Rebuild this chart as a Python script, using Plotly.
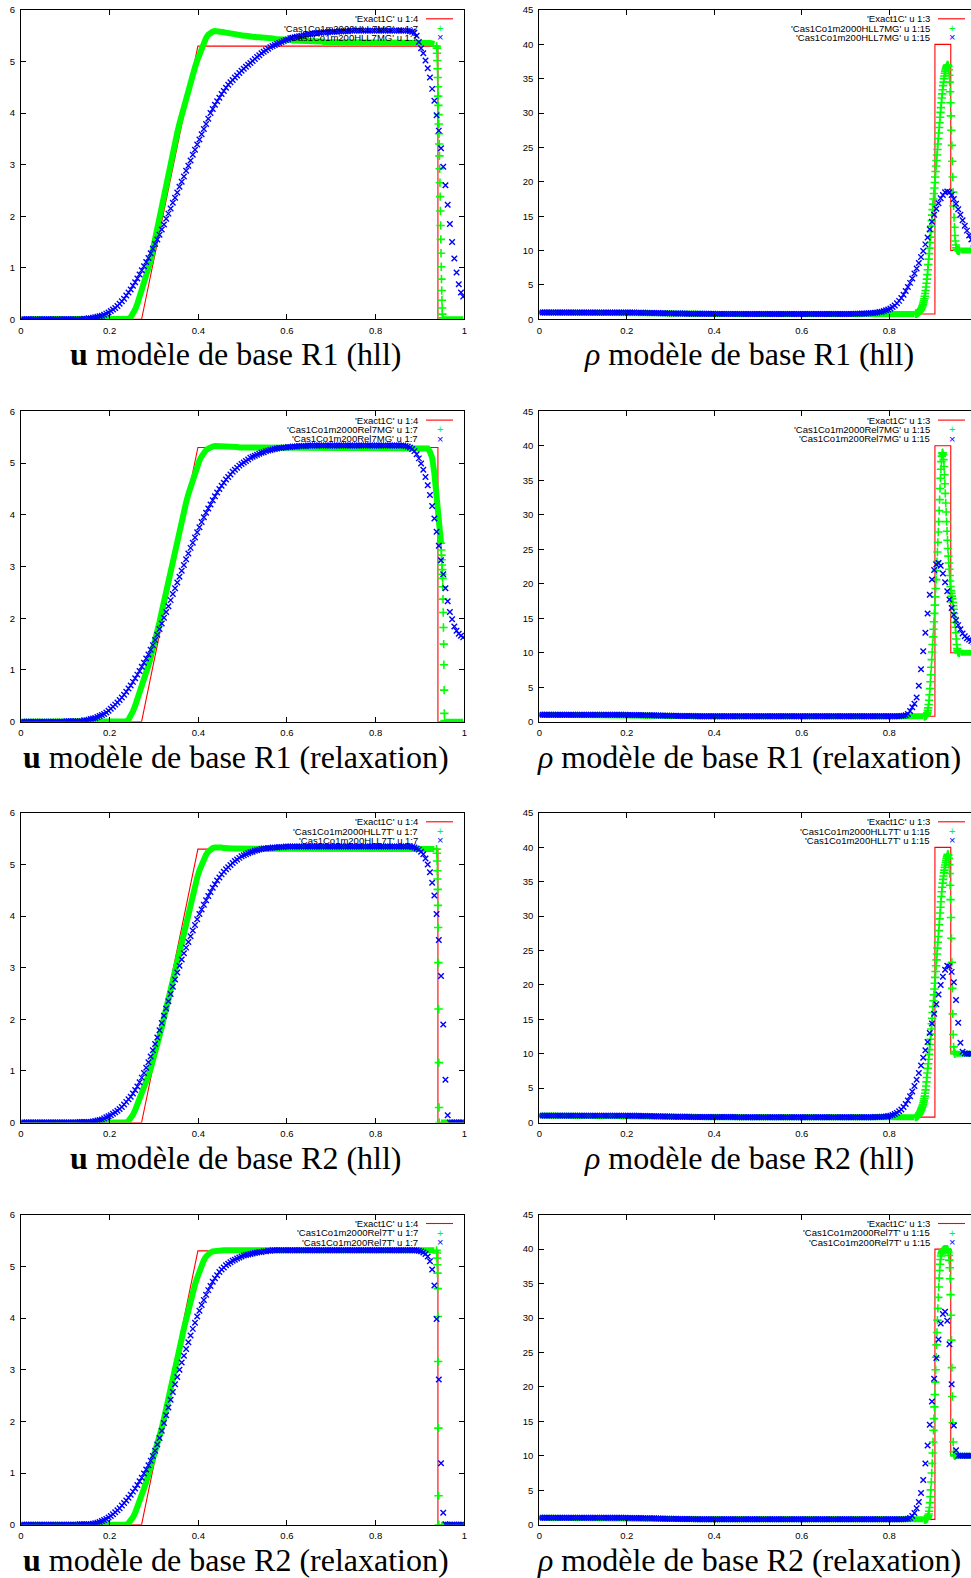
import plotly.graph_objects as go

FIG_W, FIG_H = 971, 1578

# ---------------------------------------------------------------- axes ticks
x_ticks = [0, 0.2, 0.4, 0.6, 0.8, 1.0]
x_tick_text = ["0", "0.2", "0.4", "0.6", "0.8", "1"]
u_ticks = [0, 1, 2, 3, 4, 5, 6]
rho_ticks = [0, 5, 10, 15, 20, 25, 30, 35, 40, 45]

# cell centres of the 200-cell runs
N_CELLS = 200
x_cells = [(i + 0.5) / N_CELLS for i in range(N_CELLS)]

# ---------------------------------------------------------------- exact solution
exact_x_u = [0.0, 0.272, 0.399, 0.9405, 0.9405, 1.0]
exact_u = [0.0, 0.0, 5.3, 5.3, 0.0, 0.0]
exact_x_rho = [0.0, 0.272, 0.399, 0.9043, 0.9043, 0.9405, 0.9405, 1.0]
exact_rho = [1.0, 1.0, 0.78, 0.78, 40.0, 40.0, 10.0, 10.0]

# ---------------------------------------------------------------- R1, HLL
u_r1_hll_m2000 = (
    [0.0] * 48 + [0.01, 0.04]
    + [0.10, 0.19, 0.30, 0.43, 0.57, 0.72, 0.86, 0.99, 1.14, 1.35,
       1.57, 1.78, 2.00, 2.21, 2.42, 2.63, 2.84, 3.05, 3.24, 3.43,
       3.62, 3.80, 3.97, 4.13, 4.29, 4.45, 4.60, 4.75, 4.89, 5.02,
       5.15, 5.27, 5.38, 5.46, 5.52, 5.56, 5.58, 5.59, 5.59, 5.58,
       5.57, 5.57, 5.56, 5.55, 5.54, 5.53, 5.53, 5.52, 5.51, 5.51,
       5.50, 5.50, 5.49, 5.49, 5.48, 5.48, 5.47, 5.47, 5.47, 5.46,
       5.46, 5.45, 5.45, 5.45, 5.44, 5.44, 5.43, 5.43, 5.43, 5.42,
       5.42, 5.42, 5.41, 5.41, 5.41, 5.41]
    + [5.40] * 5 + [5.39] * 5 + [5.38] * 10 + [5.37] * 12 + [5.36] * 27
    + [5.35, 5.34] + [None] * 3 + [0.0] * 10
)
u_r1_hll_m2000_front = (0.9375, 0.0005, [
    5.30, 5.26, 5.16, 5.02, 4.86, 4.69, 4.51, 4.33, 4.15, 3.97,
    3.79, 3.60, 3.40, 3.17, 2.92, 2.65, 2.38, 2.10, 1.82, 1.55,
    1.28, 1.02, 0.78, 0.56, 0.37, 0.22, 0.10, 0.03, 0.0])
u_r1_hll_m200 = (
    [0.0] * 28
    + [0.01, 0.01, 0.02, 0.02, 0.03, 0.04, 0.05, 0.06, 0.07, 0.09, 0.11, 0.13]
    + [0.16, 0.19, 0.22, 0.26, 0.30, 0.35, 0.40, 0.46, 0.52, 0.58,
       0.65, 0.72, 0.79, 0.87, 0.95, 1.03, 1.11, 1.19, 1.28, 1.37,
       1.46, 1.55, 1.64, 1.74, 1.84, 1.95, 2.05, 2.15, 2.26, 2.36,
       2.46, 2.57, 2.67, 2.77, 2.88, 2.98, 3.08, 3.19, 3.29, 3.39,
       3.49, 3.59, 3.69, 3.79, 3.89, 4.00, 4.08, 4.16, 4.23, 4.30,
       4.37, 4.43, 4.49, 4.55, 4.60, 4.64, 4.69, 4.73, 4.78, 4.82,
       4.86, 4.90, 4.94, 4.97, 5.01, 5.05, 5.09, 5.12, 5.16, 5.19,
       5.22, 5.25, 5.28, 5.30, 5.32, 5.34, 5.36, 5.38, 5.40, 5.42,
       5.43, 5.45, 5.46, 5.47, 5.48, 5.49, 5.50, 5.51, 5.52, 5.53,
       5.53, 5.54, 5.55, 5.55, 5.56, 5.56, 5.57, 5.57, 5.57, 5.58,
       5.58, 5.58, 5.58, 5.59, 5.59, 5.59, 5.59, 5.59]
    + [5.60] * 27
    + [5.59, 5.58, 5.56, 5.50, 5.38,
       5.26, 5.16, 5.02, 4.87, 4.69, 4.47, 4.24, 3.96, 3.66, 3.32,
       2.96, 2.60, 2.22, 1.85, 1.50, 1.18, 0.91, 0.68, 0.52, 0.44]
)

rho_r1_hll_m2000 = (
    [1.00] * 50
    + [0.99, 0.99, 0.98, 0.97, 0.96, 0.95, 0.94, 0.93, 0.92, 0.91,
       0.90, 0.89, 0.88, 0.87, 0.86, 0.85, 0.84, 0.83, 0.82, 0.82,
       0.81, 0.80, 0.80, 0.79, 0.79]
    + [0.78] * 97 + [None] * 20 + [10.0] * 8
)
rho_r1_hll_m2000_front = (0.860, 0.001, [
    0.80, 0.82, 0.85, 0.88, 0.92, 0.96, 1.00, 1.05, 1.10, 1.16,
    1.23, 1.31, 1.40, 1.52, 1.65, 1.80, 1.98, 2.18, 2.42, 2.70,
    3.00, 3.35, 3.75, 4.20, 4.70, 5.25, 5.85, 6.50, 7.20, 7.95,
    8.75, 9.55, 10.35, 11.15, 11.95, 12.75, 13.55, 14.35, 15.15, 15.95,
    16.75, 17.5, 18.3, 19.1, 19.9, 20.7, 21.5, 22.3, 23.1, 23.9,
    24.7, 25.5, 26.3, 27.1, 27.9, 28.6, 29.4, 30.1, 30.8, 31.5,
    32.2, 32.8, 33.4, 34.0, 34.5, 35.0, 35.4, 35.8, 36.1, 36.4,
    36.6, 36.8, 36.9, 37.0, 37.0, 36.8, 36.3, 35.5, 34.5, 33.1,
    31.5, 29.6, 27.5, 25.3, 23.0, 20.7, 18.5, 16.5, 14.8, 13.4,
    12.2, 11.4, 10.8, 10.4, 10.2, 10.1, 10.05, 10.0, 10.0, 10.0,
    10.0])
rho_r1_hll_m200 = (
    [1.00] * 40
    + [0.99, 0.99, 0.98, 0.98, 0.97, 0.97, 0.96, 0.95, 0.95, 0.94,
       0.93, 0.92, 0.92, 0.91, 0.90, 0.89, 0.89, 0.88, 0.87, 0.87,
       0.86, 0.85, 0.85, 0.84, 0.84, 0.83, 0.83, 0.82, 0.82, 0.81, 0.81]
    + [0.80] * 9 + [0.79] * 10 + [0.78] * 50
    + [0.78, 0.78, 0.79, 0.79, 0.80, 0.81, 0.82, 0.83, 0.84, 0.86,
       0.88, 0.90, 0.93, 0.96, 1.00, 1.05, 1.11, 1.20, 1.30, 1.42,
       1.58, 1.78, 2.02, 2.32, 2.68, 3.10, 3.58, 4.12, 4.70, 5.30,
       5.95, 6.65, 7.40, 8.20, 9.05, 9.95, 10.9, 11.9, 13.1, 14.2,
       15.2, 16.1, 16.9, 17.6, 18.1, 18.5, 18.6, 18.5, 18.1, 17.5,
       16.8, 16.0, 15.2, 14.4, 13.6, 12.9, 12.2, 11.6, 11.0, 10.5]
)

# ---------------------------------------------------------------- R1, relaxation
u_r1_rel_m2000 = (
    [0.0] * 47 + [0.01, 0.04, 0.10]
    + [0.20, 0.31, 0.43, 0.56, 0.68, 0.81, 0.95, 1.09, 1.24, 1.39,
       1.56, 1.74, 1.93, 2.13, 2.33, 2.54, 2.74, 2.95, 3.15, 3.34,
       3.53, 3.72, 3.90, 4.07, 4.24, 4.40, 4.55, 4.69, 4.83, 4.95,
       5.05, 5.13, 5.20, 5.25, 5.28, 5.31, 5.32]
    + [5.33] * 9 + [5.32, 5.31] + [5.30] * 84
    + [5.29, 5.28, 5.22, 5.10, 4.80, 4.30, 3.85, 3.45]
    + [None] + [0.0] * 9
)
u_r1_rel_m2000_front = (0.9475, 0.0005, [
    3.45, 3.32, 3.22, 3.13, 3.03, 2.94, 2.85, 2.77, 2.61, 2.37,
    2.11, 1.82, 1.50, 1.10, 0.61, 0.16, 0.02])
u_r1_rel_m200 = (
    [0.0] * 20 + [0.01] * 8 + [0.03, 0.03]
    + [0.04, 0.05, 0.06, 0.07, 0.09, 0.11, 0.13, 0.15, 0.18, 0.21,
       0.25, 0.29, 0.33, 0.37, 0.42, 0.47, 0.52, 0.58, 0.64, 0.70,
       0.77, 0.84, 0.91, 0.98, 1.06, 1.14, 1.22, 1.30, 1.39, 1.48,
       1.58, 1.68, 1.79, 1.90, 2.01, 2.12, 2.23, 2.35, 2.47, 2.58,
       2.69, 2.80, 2.92, 3.03, 3.14, 3.25, 3.36, 3.46, 3.56, 3.66,
       3.76, 3.86, 3.95, 4.04, 4.12, 4.20, 4.28, 4.36, 4.43, 4.50,
       4.56, 4.62, 4.68, 4.73, 4.78, 4.83, 4.87, 4.91, 4.95, 4.98,
       5.01, 5.04, 5.07, 5.10, 5.12, 5.14, 5.16, 5.18, 5.20, 5.21,
       5.23, 5.24, 5.25, 5.26, 5.27, 5.28, 5.29, 5.29, 5.30, 5.30,
       5.31, 5.31, 5.32, 5.32, 5.32, 5.33, 5.33, 5.33, 5.33, 5.34]
    + [5.34] * 43
    + [5.33, 5.32, 5.30, 5.27, 5.23, 5.17, 5.09,
       4.99, 4.87, 4.73, 4.57, 4.38, 4.17, 3.93, 3.67, 3.40, 3.12,
       2.85, 2.58, 2.33, 2.12, 1.98, 1.84, 1.76, 1.70, 1.66, 1.63]
)

rho_r1_rel_m2000 = (
    [1.00] * 50
    + [0.99, 0.99, 0.98, 0.97, 0.96, 0.95, 0.94, 0.93, 0.92, 0.91,
       0.90, 0.89, 0.88, 0.87, 0.86, 0.85, 0.84, 0.83, 0.82, 0.82,
       0.81, 0.80, 0.80, 0.79, 0.79]
    + [0.78] * 101 + [None] * 16 + [10.0] * 8
)
rho_r1_rel_m2000_front = (0.880, 0.001, [
    0.80, 0.80, 0.82, 0.85, 0.90, 0.98, 1.10, 1.30, 1.60, 2.00,
    2.50, 3.10, 3.90, 4.80, 5.80, 6.80, 7.90, 9.00, 10.1, 11.2,
    12.3, 13.4, 14.5, 15.7, 16.9, 18.1, 19.3, 20.6, 21.9, 23.2,
    24.6, 26.0, 27.5, 29.0, 30.6, 32.2, 33.8, 35.3, 36.6, 37.7,
    38.5, 38.9, 39.0, 38.7, 38.0, 37.0, 35.8, 34.5, 33.1, 31.7,
    30.4, 29.0, 27.6, 26.3, 25.1, 24.0, 23.0, 22.1, 21.2, 20.4,
    19.6, 19.0, 18.6, 18.2, 17.8, 17.3, 16.8, 16.3, 15.7, 15.1,
    14.4, 13.7, 12.9, 12.0, 11.2, 10.6, 10.3, 10.1, 10.05, 10.0,
    10.0])
rho_r1_rel_m200 = (
    [1.00] * 40
    + [0.99, 0.99, 0.98, 0.98, 0.97, 0.97, 0.96, 0.95, 0.95, 0.94,
       0.93, 0.92, 0.92, 0.91, 0.90, 0.89, 0.89, 0.88, 0.87, 0.87,
       0.86, 0.85, 0.85, 0.84, 0.84, 0.83, 0.83, 0.82, 0.82, 0.81, 0.81]
    + [0.80] * 9 + [0.79] * 10 + [0.78] * 70
    + [0.78, 0.78, 0.79, 0.79, 0.80, 0.82, 0.85, 0.92, 1.10, 1.55,
       2.1, 2.6, 3.5, 5.2, 7.6, 10.2, 12.9, 15.7, 18.4, 20.6,
       22.0, 22.8, 23.0, 22.6, 21.5, 20.2, 18.9, 17.7, 16.5, 15.5,
       14.7, 14.0, 13.4, 12.8, 12.4, 12.1, 11.9, 11.7, 11.5, 11.3]
)

# ---------------------------------------------------------------- R2, HLL
u_r2_hll_m2000 = (
    [0.0] * 48 + [0.03, 0.08]
    + [0.15, 0.24, 0.34, 0.44, 0.55, 0.66, 0.78, 0.91, 1.05, 1.19,
       1.34, 1.50, 1.66, 1.84, 2.03, 2.22, 2.41, 2.60, 2.79, 2.98,
       3.17, 3.36, 3.55, 3.74, 3.93, 4.11, 4.28, 4.45, 4.60, 4.75,
       4.89, 5.01, 5.11, 5.19, 5.25, 5.29, 5.32, 5.33, 5.34, 5.34,
       5.33, 5.32, 5.31]
    + [5.31] * 8 + [5.30] * 86 + [None] * 2 + [0.0] * 11
)
u_r2_hll_m2000_front = (0.9375, 0.0005, [
    5.30, 5.22, 5.07, 4.88, 4.72, 4.52, 4.21, 3.78, 3.10, 2.20,
    1.16, 0.29, 0.0])
u_r2_hll_m200 = (
    [0.0] * 26 + [0.01] * 6
    + [0.02, 0.03, 0.04, 0.05, 0.06, 0.08, 0.10, 0.12,
       0.14, 0.17, 0.20, 0.23, 0.26, 0.30, 0.35, 0.40, 0.45, 0.50,
       0.56, 0.63, 0.70, 0.78, 0.87, 0.96, 1.06, 1.17, 1.28, 1.40,
       1.52, 1.65, 1.79, 1.93, 2.07, 2.21, 2.35, 2.49, 2.63, 2.77,
       2.91, 3.04, 3.16, 3.28, 3.39, 3.50, 3.61, 3.72, 3.83, 3.94,
       4.04, 4.13, 4.22, 4.31, 4.39, 4.47, 4.55, 4.62, 4.69, 4.75,
       4.81, 4.86, 4.91, 4.95, 4.99, 5.03, 5.07, 5.10, 5.13, 5.16,
       5.18, 5.20, 5.22, 5.24, 5.25, 5.27, 5.28, 5.29, 5.30, 5.31,
       5.31, 5.32, 5.32, 5.33, 5.33, 5.33, 5.34, 5.34, 5.34]
    + [5.35] * 56
    + [5.35, 5.34, 5.33, 5.31, 5.29,
       5.25, 5.20, 5.12, 5.00, 4.85, 4.65, 4.40, 4.04, 3.54, 2.84,
       1.90, 0.83, 0.14]
    + [0.0] * 7
)

rho_r2_hll_m2000 = (
    [1.00] * 50
    + [0.99, 0.99, 0.98, 0.97, 0.96, 0.95, 0.94, 0.93, 0.92, 0.91,
       0.90, 0.89, 0.88, 0.87, 0.86, 0.85, 0.84, 0.83, 0.82, 0.82,
       0.81, 0.80, 0.80, 0.79, 0.79]
    + [0.78] * 97 + [None] * 18 + [10.0] * 10
)
rho_r2_hll_m2000_front = (0.860, 0.001, [
    0.80, 0.82, 0.85, 0.88, 0.92, 0.97, 1.03, 1.10, 1.19, 1.30,
    1.43, 1.58, 1.74, 1.91, 2.08, 2.24, 2.40, 2.62, 2.87, 3.15,
    3.47, 3.83, 4.25, 4.75, 5.30, 5.90, 6.55, 7.20, 7.87, 8.55,
    9.20, 9.90, 10.6, 11.35, 12.1, 12.85, 13.6, 14.35, 15.15, 16.0,
    16.85, 17.7, 18.55, 19.4, 20.25, 21.1, 21.95, 22.8, 23.65, 24.5,
    25.35, 26.2, 27.05, 27.9, 28.75, 29.6, 30.45, 31.3, 32.1, 32.85,
    33.55, 34.2, 34.8, 35.35, 35.85, 36.3, 36.7, 37.1, 37.45, 37.8,
    38.1, 38.4, 38.65, 38.85, 39.0, 38.9, 38.4, 37.5, 36.2, 34.5,
    32.4, 29.8, 26.8, 23.3, 19.5, 15.8, 12.8, 11.0, 10.3, 10.05,
    10.0])
rho_r2_hll_m200 = (
    [1.00] * 40
    + [0.99, 0.99, 0.98, 0.98, 0.97, 0.97, 0.96, 0.95, 0.95, 0.94,
       0.93, 0.92, 0.92, 0.91, 0.90, 0.89, 0.89, 0.88, 0.87, 0.87,
       0.86, 0.85, 0.85, 0.84, 0.84, 0.83, 0.83, 0.82, 0.82, 0.81, 0.81]
    + [0.80] * 9 + [0.79] * 10 + [0.78] * 63
    + [0.79, 0.80, 0.81, 0.83, 0.85, 0.88, 0.93,
       1.00, 1.10, 1.23, 1.40, 1.62, 1.90, 2.25, 2.70, 3.20, 3.80,
       4.5, 5.3, 6.2, 7.2, 8.3, 9.4, 10.5, 11.7, 13.0, 14.4,
       15.8, 17.2, 18.6, 20.0, 21.2, 22.2, 22.8, 22.7, 21.9, 20.4,
       17.8, 14.5, 11.6, 10.3, 10.05, 10.0, 10.0, 10.0, 10.0, 10.0]
)

# ---------------------------------------------------------------- R2, relaxation
u_r2_rel_m2000 = (
    [0.0] * 48 + [0.03, 0.07]
    + [0.14, 0.23, 0.33, 0.45, 0.57, 0.70, 0.83, 0.97, 1.11, 1.25,
       1.40, 1.55, 1.70, 1.87, 2.05, 2.23, 2.42, 2.62, 2.81, 3.01,
       3.21, 3.41, 3.60, 3.80, 3.99, 4.17, 4.35, 4.51, 4.65, 4.78,
       4.92, 5.03, 5.12, 5.19, 5.24, 5.27, 5.29, 5.30]
    + [5.31] * 99 + [None] * 2 + [0.0] * 11
)
u_r2_rel_m2000_front = (0.9375, 0.0005, [
    5.31, 5.26, 5.16, 5.03, 4.87, 4.57, 4.03, 3.16, 1.87, 0.56, 0.0])
u_r2_rel_m200 = (
    [0.0] * 26 + [0.01] * 6
    + [0.02, 0.03, 0.04, 0.05, 0.07, 0.09, 0.11, 0.14,
       0.17, 0.20, 0.24, 0.28, 0.32, 0.37, 0.42, 0.47, 0.52, 0.58,
       0.64, 0.70, 0.77, 0.84, 0.91, 0.99, 1.07, 1.15, 1.24, 1.33,
       1.43, 1.55, 1.68, 1.82, 1.97, 2.12, 2.27, 2.42, 2.57, 2.72,
       2.86, 3.00, 3.14, 3.27, 3.40, 3.53, 3.66, 3.79, 3.91, 4.03,
       4.14, 4.25, 4.35, 4.45, 4.54, 4.62, 4.70, 4.77, 4.83, 4.89,
       4.94, 4.98, 5.02, 5.05, 5.08, 5.11, 5.13, 5.15, 5.17, 5.19,
       5.21, 5.22, 5.23, 5.24, 5.25, 5.26, 5.27, 5.28, 5.28, 5.29,
       5.29, 5.30, 5.30]
    + [5.31] * 66
    + [5.30,
       5.29, 5.27, 5.24, 5.19, 5.10, 4.94, 4.63, 3.98, 2.81, 1.19,
       0.23, 0.01]
    + [0.0] * 8
)

rho_r2_rel_m2000 = (
    [1.00] * 50
    + [0.99, 0.99, 0.98, 0.97, 0.96, 0.95, 0.94, 0.93, 0.92, 0.91,
       0.90, 0.89, 0.88, 0.87, 0.86, 0.85, 0.84, 0.83, 0.82, 0.82,
       0.81, 0.80, 0.80, 0.79, 0.79]
    + [0.78] * 101 + [None] * 14 + [10.0] * 10
)
rho_r2_rel_m2000_front = (0.880, 0.001, [
    0.78, 0.78, 0.79, 0.80, 0.82, 0.85, 0.90, 0.98, 1.10, 1.28,
    1.55, 1.95, 2.50, 3.20, 4.05, 5.05, 6.20, 7.50, 8.90, 10.4,
    12.0, 13.7, 15.4, 17.1, 18.9, 20.7, 22.5, 24.3, 26.1, 27.9,
    29.7, 31.4, 33.0, 34.5, 35.8, 36.9, 37.8, 38.5, 39.0, 39.3,
    39.5, 39.65, 39.75, 39.82, 39.88, 39.92, 39.95, 39.97, 39.98, 39.99,
    40.0, 40.0, 39.98, 39.92, 39.8, 39.55, 39.1, 38.4, 37.3, 35.7,
    33.4, 30.4, 26.8, 22.8, 18.6, 14.8, 12.0, 10.6, 10.15, 10.03,
    10.0])
rho_r2_rel_m200 = (
    [1.00] * 40
    + [0.99, 0.99, 0.98, 0.98, 0.97, 0.97, 0.96, 0.95, 0.95, 0.94,
       0.93, 0.92, 0.92, 0.91, 0.90, 0.89, 0.89, 0.88, 0.87, 0.87,
       0.86, 0.85, 0.85, 0.84, 0.84, 0.83, 0.83, 0.82, 0.82, 0.81, 0.81]
    + [0.80] * 9 + [0.79] * 10 + [0.78] * 76
    + [0.79, 0.81, 0.85, 0.97,
       1.25, 1.7, 2.4, 3.3, 4.6, 6.5, 8.9, 11.5, 14.5, 17.9,
       21.2, 24.2, 26.9, 29.2, 30.6, 30.9, 29.6, 26.2, 20.4, 14.4,
       10.8, 10.0, 10.0, 10.0, 10.0, 10.0, 10.0, 10.0, 10.0, 10.0]
)

# ---------------------------------------------------------------- panel table
panels = [
    dict(var="u", fine=u_r1_hll_m2000, front=u_r1_hll_m2000_front, coarse=u_r1_hll_m200,
         keys=["'Exact1C' u 1:4", "'Cas1Co1m2000HLL7MG' u 1:7", "'Cas1Co1m200HLL7MG' u 1:7"],
         caption="<b>u</b> modèle de base R1 (hll)"),
    dict(var="rho", fine=rho_r1_hll_m2000, front=rho_r1_hll_m2000_front, coarse=rho_r1_hll_m200,
         keys=["'Exact1C' u 1:3", "'Cas1Co1m2000HLL7MG' u 1:15", "'Cas1Co1m200HLL7MG' u 1:15"],
         caption="<i>ρ</i> modèle de base R1 (hll)"),
    dict(var="u", fine=u_r1_rel_m2000, front=u_r1_rel_m2000_front, coarse=u_r1_rel_m200,
         keys=["'Exact1C' u 1:4", "'Cas1Co1m2000Rel7MG' u 1:7", "'Cas1Co1m200Rel7MG' u 1:7"],
         caption="<b>u</b> modèle de base R1 (relaxation)"),
    dict(var="rho", fine=rho_r1_rel_m2000, front=rho_r1_rel_m2000_front, coarse=rho_r1_rel_m200,
         keys=["'Exact1C' u 1:3", "'Cas1Co1m2000Rel7MG' u 1:15", "'Cas1Co1m200Rel7MG' u 1:15"],
         caption="<i>ρ</i> modèle de base R1 (relaxation)"),
    dict(var="u", fine=u_r2_hll_m2000, front=u_r2_hll_m2000_front, coarse=u_r2_hll_m200,
         keys=["'Exact1C' u 1:4", "'Cas1Co1m2000HLL7T' u 1:7", "'Cas1Co1m200HLL7T' u 1:7"],
         caption="<b>u</b> modèle de base R2 (hll)"),
    dict(var="rho", fine=rho_r2_hll_m2000, front=rho_r2_hll_m2000_front, coarse=rho_r2_hll_m200,
         keys=["'Exact1C' u 1:3", "'Cas1Co1m2000HLL7T' u 1:15", "'Cas1Co1m200HLL7T' u 1:15"],
         caption="<i>ρ</i> modèle de base R2 (hll)"),
    dict(var="u", fine=u_r2_rel_m2000, front=u_r2_rel_m2000_front, coarse=u_r2_rel_m200,
         keys=["'Exact1C' u 1:4", "'Cas1Co1m2000Rel7T' u 1:7", "'Cas1Co1m200Rel7T' u 1:7"],
         caption="<b>u</b> modèle de base R2 (relaxation)"),
    dict(var="rho", fine=rho_r2_rel_m2000, front=rho_r2_rel_m2000_front, coarse=rho_r2_rel_m200,
         keys=["'Exact1C' u 1:3", "'Cas1Co1m2000Rel7T' u 1:15", "'Cas1Co1m200Rel7T' u 1:15"],
         caption="<i>ρ</i> modèle de base R2 (relaxation)"),
]

for p in panels:
    assert len(p["fine"]) == N_CELLS, p["caption"]
    assert len(p["coarse"]) == N_CELLS, p["caption"]

# ---------------------------------------------------------------- geometry (pixels)
ROWS_PX = [(10.0, 319.3), (411.3, 721.7), (813.0, 1122.5), (1214.7, 1524.7)]
# left edge, right edge, x value at right edge
COLS_PX = [(21.0, 464.3, 1.0), (539.3, 971.0, (971.0 - 539.3) / 437.5)]
CAPTION_X = [235.5, 748.5]
CAPTION_Y = [354.0, 757.0, 1158.0, 1560.0]
KEY_TEXT_RIGHT = [420.0, 932.3]
KEY_SAMPLE = [(426.0, 453.0), (938.0, 965.0)]
KEY_DY = [8.8, 18.1, 27.4]

RED = "#ff0000"
GREEN = "#00ff00"
BLUE = "#0000ff"
SANS = "Liberation Sans, Arial, sans-serif"
SERIF = "Liberation Serif, Times New Roman, serif"


def fx(px):
    return px / FIG_W


def fy(py):
    return 1.0 - py / FIG_H


fig = go.Figure()
annotations = []
shapes = []

for k, p in enumerate(panels):
    r, c = divmod(k, 2)
    top, bot = ROWS_PX[r]
    left, right, xmax = COLS_PX[c]
    sfx = "" if k == 0 else str(k + 1)
    xa, ya = "x" + sfx, "y" + sfx

    if p["var"] == "u":
        ex_x, ex_y, ymax, yt = exact_x_u, exact_u, 6, u_ticks
    else:
        ex_x, ex_y, ymax, yt = exact_x_rho, exact_rho, 45, rho_ticks

    # exact solution
    fig.add_trace(go.Scatter(x=ex_x, y=ex_y, mode="lines", xaxis=xa, yaxis=ya,
                             line=dict(color=RED, width=1.1), showlegend=False,
                             hoverinfo="skip"))

    # 2000-cell run: packed points read as a solid band on smooth parts,
    # individual points across the fronts
    x0, dx, front = p["front"]
    front_x = [x0 + dx * j for j in range(len(front))]
    fig.add_trace(go.Scatter(x=x_cells, y=p["fine"], mode="lines", xaxis=xa, yaxis=ya,
                             line=dict(color=GREEN, width=6), connectgaps=False,
                             showlegend=False, hoverinfo="skip"))
    fig.add_trace(go.Scatter(x=front_x, y=front, mode="markers", xaxis=xa, yaxis=ya,
                             marker=dict(symbol="cross-thin", size=6, color=GREEN,
                                         line=dict(color=GREEN, width=1.6)),
                             showlegend=False, hoverinfo="skip"))

    # 200-cell run
    fig.add_trace(go.Scatter(x=x_cells, y=p["coarse"], mode="markers", xaxis=xa, yaxis=ya,
                             marker=dict(symbol="x-thin", size=5.5, color=BLUE,
                                         line=dict(color=BLUE, width=1.4)),
                             showlegend=False, hoverinfo="skip"))

    axis_common = dict(showline=True, linecolor="black", linewidth=1, ticks="inside",
                       ticklen=5, tickwidth=1, tickcolor="black", showgrid=False,
                       zeroline=False, automargin=False,
                       tickfont=dict(family=SANS, size=9.5, color="black"))
    fig.layout["xaxis" + sfx] = dict(
        domain=[fx(left), fx(right)], range=[0, xmax], anchor=ya,
        tickmode="array", tickvals=x_ticks, ticktext=x_tick_text,
        mirror="ticks", ticklabelstandoff=2, **axis_common)
    fig.layout["yaxis" + sfx] = dict(
        domain=[fy(bot), fy(top)], range=[0, ymax], anchor=xa,
        tickmode="array", tickvals=yt, ticktext=[str(v) for v in yt],
        mirror="ticks" if c == 0 else False, ticklabelstandoff=3, **axis_common)

    # key
    for j, (label, dy) in enumerate(zip(p["keys"], KEY_DY)):
        yk = fy(top + dy)
        annotations.append(dict(x=fx(KEY_TEXT_RIGHT[c]), y=yk, xref="paper", yref="paper",
                                text=label, showarrow=False, xanchor="right", yanchor="middle",
                                font=dict(family=SANS, size=9.5, color="black")))
        xs0, xs1 = KEY_SAMPLE[c]
        if j == 0:
            shapes.append(dict(type="line", xref="paper", yref="paper",
                               x0=fx(xs0), x1=fx(xs1), y0=yk, y1=yk,
                               line=dict(color=RED, width=1.1)))
        else:
            annotations.append(dict(x=fx((xs0 + xs1) / 2), y=yk, xref="paper", yref="paper",
                                    text="+" if j == 1 else "×", showarrow=False,
                                    xanchor="center", yanchor="middle",
                                    font=dict(family=SANS, size=11,
                                              color=GREEN if j == 1 else BLUE)))

    # caption
    annotations.append(dict(x=fx(CAPTION_X[c]), y=fy(CAPTION_Y[r]), xref="paper", yref="paper",
                            text=p["caption"], showarrow=False, xanchor="center",
                            yanchor="middle", font=dict(family=SERIF, size=32, color="black")))

fig.update_layout(width=FIG_W, height=FIG_H, margin=dict(l=0, r=0, t=0, b=0, pad=0),
                  paper_bgcolor="white", plot_bgcolor="white", showlegend=False,
                  annotations=annotations, shapes=shapes)

# the page itself should add no margin around the figure
fig.write_html("out.html", config={"displayModeBar": False},
               post_script="document.body.style.margin='0';"
                           "document.body.style.overflow='hidden';")
